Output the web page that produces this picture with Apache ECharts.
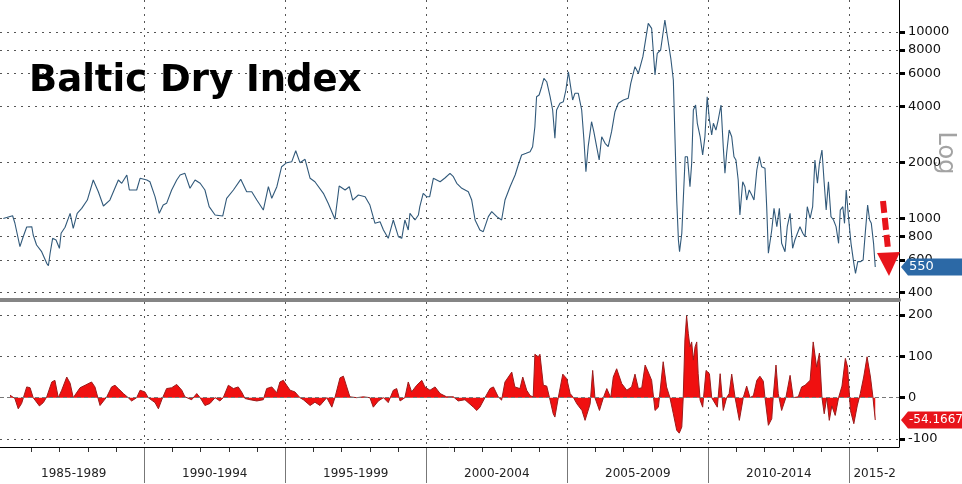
<!DOCTYPE html>
<html>
<head>
<meta charset="utf-8">
<script src="https://cdn.jsdelivr.net/npm/echarts@6/dist/echarts.min.js"></script>
<style>
html,body{margin:0;padding:0;background:#fff;}
#c{width:962px;height:484px;}
</style>
</head>
<body>
<div id="c"></div>
<script>
// ---- data (decimal years) ----
const bdiYears = [1985.00,1985.33,1985.41,1985.59,1985.69,1985.83,1986.01,1986.06,1986.18,1986.36,1986.54,1986.60,1986.66,1986.75,1986.87,1986.99,1987.05,1987.19,1987.37,1987.48,1987.62,1987.78,1987.98,1988.19,1988.25,1988.37,1988.55,1988.78,1989.08,1989.20,1989.38,1989.47,1989.73,1989.85,1990.09,1990.20,1990.38,1990.53,1990.67,1990.79,1990.97,1991.15,1991.27,1991.44,1991.62,1991.80,1991.98,1992.15,1992.30,1992.51,1992.78,1992.92,1993.16,1993.42,1993.63,1993.81,1993.99,1994.22,1994.40,1994.52,1994.70,1994.87,1995.05,1995.23,1995.37,1995.52,1995.70,1995.88,1996.05,1996.35,1996.52,1996.76,1996.91,1997.12,1997.27,1997.39,1997.59,1997.83,1998.00,1998.18,1998.36,1998.48,1998.65,1998.83,1999.01,1999.13,1999.24,1999.36,1999.42,1999.60,1999.72,1999.77,1999.89,2000.01,2000.12,2000.25,2000.49,2000.66,2000.84,2000.96,2001.08,2001.26,2001.49,2001.61,2001.73,2001.90,2002.02,2002.20,2002.32,2002.50,2002.67,2002.79,2002.97,2003.15,2003.26,2003.38,2003.54,2003.68,2003.77,2003.85,2003.91,2004.00,2004.09,2004.17,2004.27,2004.39,2004.48,2004.56,2004.62,2004.74,2004.86,2004.95,2005.04,2005.10,2005.19,2005.27,2005.39,2005.51,2005.59,2005.66,2005.74,2005.86,2005.94,2006.04,2006.13,2006.22,2006.34,2006.45,2006.57,2006.69,2006.81,2006.99,2007.16,2007.25,2007.40,2007.52,2007.68,2007.87,2007.99,2008.11,2008.19,2008.31,2008.46,2008.55,2008.67,2008.76,2008.82,2008.88,2008.94,2008.98,2009.06,2009.18,2009.26,2009.35,2009.41,2009.47,2009.55,2009.61,2009.71,2009.80,2009.88,2009.96,2010.04,2010.12,2010.18,2010.27,2010.35,2010.45,2010.53,2010.59,2010.65,2010.74,2010.83,2010.91,2010.98,2011.06,2011.12,2011.22,2011.30,2011.36,2011.45,2011.54,2011.62,2011.72,2011.81,2011.89,2012.01,2012.07,2012.13,2012.25,2012.33,2012.43,2012.52,2012.60,2012.72,2012.80,2012.90,2012.99,2013.07,2013.16,2013.25,2013.35,2013.43,2013.51,2013.61,2013.70,2013.78,2013.87,2013.94,2014.03,2014.11,2014.18,2014.26,2014.35,2014.44,2014.53,2014.62,2014.68,2014.77,2014.83,2014.89,2014.98,2015.06,2015.16,2015.22,2015.30,2015.39,2015.49,2015.57,2015.65,2015.72,2015.78,2015.86,2015.92];
const bdiValues = [1000,1035,946,706,786,900,904,816,721,664,575,558,651,783,767,692,833,897,1066,886,1066,1134,1256,1609,1622,1392,1167,1256,1609,1545,1711,1422,1422,1643,1609,1575,1309,1066,1181,1206,1422,1609,1711,1747,1452,1609,1545,1422,1157,1044,1031,1283,1422,1622,1392,1392,1256,1110,1481,1283,1481,1895,1992,2017,2310,1992,2077,1643,1575,1365,1206,990,1494,1422,1481,1256,1337,1309,1181,942,961,868,783,982,799,783,982,868,1066,982,1044,1157,1365,1309,1309,1643,1575,1649,1747,1676,1545,1452,1392,1256,982,868,850,1023,1088,1023,982,1256,1481,1711,1936,2190,2237,2282,2427,3106,4499,4594,5089,5646,5413,4499,3818,2692,3818,4147,4230,4887,6125,5308,4319,4692,4692,3818,2636,1782,2427,3304,2921,2427,2059,2746,2531,2427,2921,3739,4147,4319,4410,5308,6516,6006,7373,11133,10467,5882,7689,8009,11596,9436,7228,5528,2636,1256,767,664,833,2145,2145,1481,1977,3818,4061,3240,2746,2190,2746,4499,3374,2804,3240,2982,3374,4061,2427,1747,2237,2982,2746,2145,2059,1609,1044,1575,1481,1256,1422,1337,1256,1820,2145,1895,1858,1157,651,868,1134,904,1134,736,664,904,1066,692,767,833,904,833,799,1157,1002,1157,2059,1545,1977,2330,1545,1110,1575,1023,982,904,736,1110,1157,942,1422,982,736,575,508,587,587,599,850,1181,982,942,736,550];

const oscYears = [1985.24,1985.41,1985.53,1985.65,1985.83,1985.95,1986.06,1986.28,1986.42,1986.54,1986.72,1986.83,1986.95,1987.07,1987.25,1987.37,1987.48,1987.72,1987.90,1988.13,1988.25,1988.43,1988.49,1988.67,1988.84,1988.96,1989.08,1989.26,1989.43,1989.55,1989.73,1989.85,1990.02,1990.14,1990.38,1990.50,1990.62,1990.79,1990.97,1991.15,1991.33,1991.44,1991.68,1991.86,1991.98,1992.15,1992.33,1992.51,1992.68,1992.80,1992.98,1993.16,1993.33,1993.45,1993.57,1993.75,1993.99,1994.22,1994.34,1994.52,1994.70,1994.81,1994.93,1995.05,1995.17,1995.34,1995.52,1995.64,1995.88,1996.05,1996.23,1996.47,1996.65,1996.76,1996.94,1997.06,1997.18,1997.29,1997.53,1997.77,1998.00,1998.12,1998.30,1998.48,1998.65,1998.83,1998.95,1999.07,1999.24,1999.36,1999.48,1999.66,1999.84,1999.95,2000.13,2000.31,2000.49,2000.72,2000.96,2001.13,2001.37,2001.67,2001.79,2001.90,2002.08,2002.26,2002.38,2002.55,2002.67,2002.79,2003.03,2003.14,2003.32,2003.42,2003.56,2003.68,2003.79,2003.85,2003.97,2004.03,2004.15,2004.27,2004.39,2004.50,2004.56,2004.68,2004.84,2004.98,2005.10,2005.22,2005.34,2005.52,2005.63,2005.81,2005.90,2005.98,2006.14,2006.28,2006.40,2006.54,2006.63,2006.75,2006.93,2007.11,2007.28,2007.40,2007.52,2007.64,2007.76,2007.87,2007.99,2008.11,2008.23,2008.40,2008.52,2008.64,2008.76,2008.88,2008.97,2009.06,2009.11,2009.17,2009.23,2009.29,2009.35,2009.41,2009.47,2009.53,2009.59,2009.64,2009.71,2009.80,2009.92,2010.04,2010.12,2010.24,2010.32,2010.42,2010.53,2010.65,2010.74,2010.83,2010.95,2011.10,2011.24,2011.36,2011.48,2011.60,2011.72,2011.83,2011.95,2012.01,2012.13,2012.25,2012.30,2012.40,2012.48,2012.60,2012.75,2012.90,2013.01,2013.19,2013.31,2013.43,2013.61,2013.72,2013.84,2013.94,2014.03,2014.11,2014.20,2014.29,2014.38,2014.50,2014.62,2014.74,2014.86,2014.94,2015.04,2015.16,2015.28,2015.39,2015.51,2015.63,2015.75,2015.84,2015.92];
const oscValues = [6,-2,-27,-14,26,24,0,-20,-12,2,38,42,0,18,50,35,0,24,30,38,26,-19,-23,2,26,30,22,10,0,-8,0,18,14,0,-12,-27,-5,22,24,32,18,2,-5,10,0,-19,-14,0,-8,0,30,22,26,14,-2,-5,-8,-5,22,26,12,38,42,30,18,14,0,-5,-19,-11,-19,0,-23,0,48,52,26,2,0,2,0,-23,-8,0,-12,18,22,-8,0,38,14,30,42,26,18,26,10,2,2,-8,-5,-23,-31,-23,0,22,26,2,-6,38,62,26,22,50,18,5,2,105,99,105,30,28,-6,-39,-47,0,57,46,10,0,-15,-31,-55,-15,66,0,-31,0,22,0,50,70,34,18,26,57,22,24,79,62,42,-31,-23,87,26,0,-39,-79,-86,-71,0,140,198,156,123,135,91,123,135,58,-6,-23,66,58,0,-14,-23,58,-31,0,10,57,0,-55,0,28,0,5,42,52,40,0,-67,-51,0,79,10,-31,0,54,0,2,26,30,42,135,74,108,0,-39,0,-55,-20,-43,0,28,95,74,-31,-63,-20,10,50,99,50,0,-54.1667];

const logTicks = [400,600,800,1000,2000,4000,6000,8000,10000];
const oscTicks = [-100,0,100,200];
const periodBounds = [1990,1995,2000,2005,2010,2015];
const periodLabelAt = [1987.5,1992.5,1997.5,2002.5,2007.5,2012.5,2015.9];
const periodLabels = ['1985-1989','1990-1994','1995-1999','2000-2004','2005-2009','2010-2014','2015-2'];
const yearTicks = [1986,1987,1988,1989,1991,1992,1993,1994,1996,1997,1998,1999,2001,2002,2003,2004,2006,2007,2008,2009,2011,2012,2013,2014,2016];
const titleText = 'Baltic Dry Index';
const scaleName = 'Log';

// ---- chart ----
const X_MIN = 1984.883, X_MAX = 2016.762;
const FONT = 'DejaVu Sans';
const dotted = {color:'#555', width:1, type:[2,5]};

const chart = echarts.init(document.getElementById('c'), null, {renderer:'canvas'});
const zip = (a,b) => a.map((v,i)=>[v,b[i]]);
const periodLabelOf = v => {
  let best = 0;
  periodLabelAt.forEach((p,i)=>{ if (Math.abs(p-v) < Math.abs(periodLabelAt[best]-v)) best = i; });
  return periodLabels[best];
};
const hiddenX = (grid, ticks, split) => ({
  gridIndex:grid,type:'value',min:X_MIN,max:X_MAX,position:'bottom',
  axisLine:{show:false},axisTick:{show:false,customValues:ticks},axisLabel:{show:false},
  splitLine:split
});

chart.setOption({
  animation:false,
  backgroundColor:'#fff',
  textStyle:{fontFamily:FONT},
  title:{text:titleText,left:29,top:63,padding:0,
    textStyle:{fontFamily:FONT,fontWeight:'bold',fontSize:37,color:'#000'}},
  grid:[
    {left:0,right:63,top:0,height:300},
    {left:0,right:63,top:302,height:145},
    {left:0,right:63,top:447,height:36},
    {left:0,right:63,top:447,height:5}
  ],
  xAxis:[
    {gridIndex:0,type:'value',min:X_MIN,max:X_MAX,position:'bottom',
     axisLine:{show:true,onZero:false,lineStyle:{color:'#858585',width:4}},
     axisTick:{show:false,customValues:periodBounds},
     axisLabel:{show:false},
     splitLine:{show:true,lineStyle:dotted}},
    {gridIndex:1,type:'value',min:X_MIN,max:X_MAX,position:'bottom',
     axisLine:{show:true,onZero:false,lineStyle:{color:'#000',width:1}},
     axisTick:{show:false,customValues:periodBounds},
     axisLabel:{show:false},
     splitLine:{show:true,lineStyle:dotted}},
    {gridIndex:2,type:'value',min:X_MIN,max:X_MAX,position:'bottom',
     axisLine:{show:false},
     axisTick:{show:false,customValues:periodBounds},
     axisLabel:{show:true,customValues:periodLabelAt,margin:-15,fontSize:12,color:'#222',fontFamily:FONT,
       verticalAlign:'top',formatter:v=>periodLabelOf(v)},
     splitLine:{show:true,lineStyle:{color:'#777',width:1,type:'solid'}}},
    hiddenX(3, yearTicks, {show:true,lineStyle:{color:'#333',width:1,type:'solid'}})
  ],
  yAxis:[
    {gridIndex:0,type:'log',logBase:10,min:365.6,max:14848,position:'right',
     axisLine:{show:true,lineStyle:{color:'#000',width:1}},
     axisTick:{show:true,customValues:logTicks,length:6,lineStyle:{color:'#000',width:3}},
     axisLabel:{show:true,customValues:logTicks,margin:9,fontSize:13,color:'#111',fontFamily:FONT,
       formatter:v=>String(Math.round(v))},
     splitLine:{show:true,lineStyle:dotted}},
    {gridIndex:1,type:'value',min:-119.5,max:231.7,position:'right',
     axisLine:{show:true,onZero:false,lineStyle:{color:'#000',width:1}},
     axisTick:{show:true,customValues:oscTicks,length:6,lineStyle:{color:'#000',width:3}},
     axisLabel:{show:true,customValues:oscTicks,margin:9,fontSize:13,color:'#111',fontFamily:FONT,
       formatter:v=>String(Math.round(v))},
     splitLine:{show:true,lineStyle:dotted}},
    {gridIndex:2,type:'value',min:0,max:1,show:false},
    {gridIndex:3,type:'value',min:0,max:1,show:false}
  ],
  series:[
    {type:'line',xAxisIndex:0,yAxisIndex:0,data:zip(bdiYears,bdiValues),
     showSymbol:false,symbol:'none',lineStyle:{color:'#31597a',width:1.1}},
    {type:'line',xAxisIndex:1,yAxisIndex:1,data:zip(oscYears,oscValues),
     showSymbol:false,symbol:'none',
     lineStyle:{color:'#9c1b1b',width:1},
     areaStyle:{color:'#f01010',opacity:1,origin:0},
     markLine:{silent:true,symbol:'none',label:{show:false},
       lineStyle:{color:'#777',type:[4,3],width:1},data:[{yAxis:0}]}},
    {type:'line',xAxisIndex:2,yAxisIndex:2,data:[],showSymbol:false},
    {type:'line',xAxisIndex:3,yAxisIndex:3,data:[],showSymbol:false}
  ]
});

// badges and annotations placed from the library's own scales
const lastBdi = bdiValues[bdiValues.length-1];
const lastOsc = oscValues[oscValues.length-1];
const xa = chart.convertToPixel({xAxisIndex:0}, X_MAX);
const yb = chart.convertToPixel({yAxisIndex:0}, lastBdi);
const yo = chart.convertToPixel({yAxisIndex:1}, lastOsc);
const W = 962;
function badge(y, color, text, fs){
  return [
    {type:'polygon',z:100,shape:{points:[[xa+2,y],[xa+9,y-8.5],[W,y-8.5],[W,y+8.5],[xa+9,y+8.5]]},
     style:{fill:color}},
    {type:'text',z:101,x:xa+10,y:y,style:{text:text,fill:'#fff',font:fs+'px '+FONT,
     verticalAlign:'middle',align:'left'}}
  ];
}
chart.setOption({
  graphic:[
    ...badge(yb,'#2c69a6',String(lastBdi),13),
    ...badge(yo,'#e8141b',String(lastOsc),12),
    {type:'text',x:xa+46,y:153,rotation:-Math.PI/2,
     style:{text:scaleName,fill:'#a3a3a3',font:'24px '+FONT,align:'center',verticalAlign:'middle'}},
    {type:'line',z:90,shape:{x1:883,y1:201,x2:888,y2:249},
     style:{stroke:'#e8141b',lineWidth:6,lineDash:[12,5]}},
    {type:'polygon',z:90,shape:{points:[[877,253],[900,252],[889,276]]},style:{fill:'#e8141b'}}
  ]
});
</script>
</body>
</html>
